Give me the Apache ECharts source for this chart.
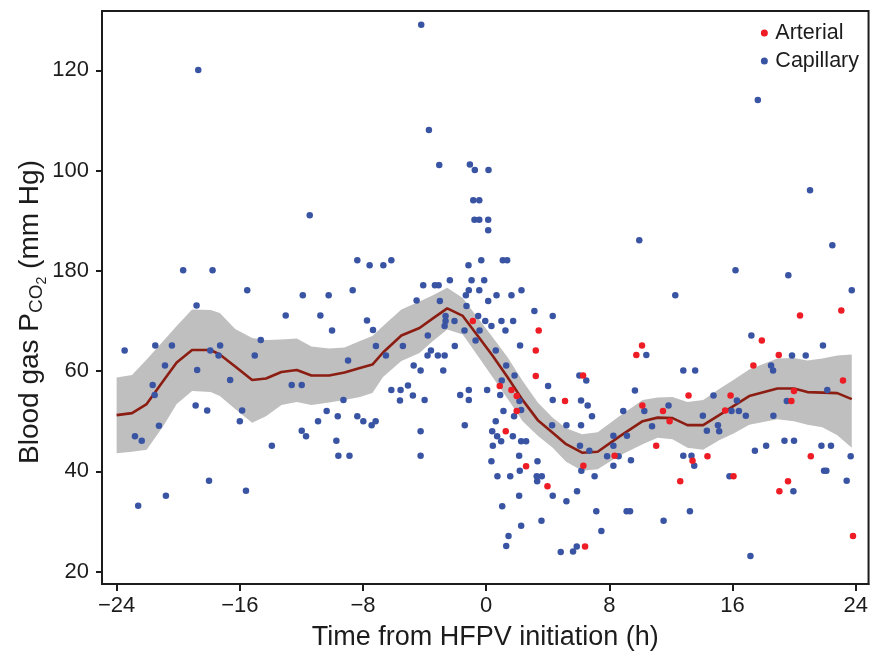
<!DOCTYPE html>
<html><head><meta charset="utf-8">
<script src="https://cdn.jsdelivr.net/npm/echarts@6/dist/echarts.min.js"></script>
<style>html,body{margin:0;padding:0;background:#fff}#c{width:871px;height:656px}</style>
</head><body><div id="c"></div>
<script>
const FONT = '"Liberation Sans", Arial, Helvetica, sans-serif';
const xTicks = [-24, -16, -8, 0, 8, 16, 24];
const xTickLabels = ['\u221224', '\u221216', '\u22128', '0', '8', '16', '24'];
const yTicks = [20, 40, 60, 80, 100, 120];
const yTickLabels = ['20', '40', '60', '180', '100', '120'];
const xTitle = 'Time from HFPV initiation (h)';
const seriesNames = ['Arterial', 'Capillary'];

const capillary = [
[-19.68,80.1],[-17.77,80.1],[-8.37,82.1],[-15.52,76.1],[-11.91,75.1],[-10.23,75.1],[-8.67,76.1],[-18.81,73.1],[-13.02,71.1],[-10.77,71.1],
[-10.01,68.1],[-23.48,64.1],[-21.49,65.1],[-20.41,65.1],[-17.92,64.1],[-17.28,65.1],[-17.38,63.1],[-14.64,66.2],[-15.03,63.1],[-20.86,61.1],
[-18.77,60.2],[-8.97,62.1],[-21.66,57.2],[-21.53,55.2],[-16.63,58.2],[-12.63,57.2],[-11.98,57.2],[-9.27,54.2],[-18.87,53.1],[-18.12,52.1],
[-15.85,52.1],[-16.0,50.0],[-10.36,52.0],[-9.64,51.0],[-8.37,51.0],[-10.92,50.0],[-21.25,49.1],[-22.81,47.0],[-22.37,46.1],[-13.92,45.1],
[-11.98,48.1],[-11.7,47.0],[-9.73,46.1],[-9.6,43.1],[-8.88,43.1],[-22.6,33.1],[-20.8,35.1],[-18.0,38.1],[-15.6,36.1],[-18.7,120.1],[-11.46,91.1],
[-7.57,81.1],[-6.68,81.1],[-6.16,82.1],[-7.74,70.1],[-7.35,68.2],[-7.16,65.0],[-6.51,63.1],[-5.41,65.0],[-4.71,61.1],[-4.52,74.1],
[-6.16,56.2],[-5.56,56.2],[-5.6,54.1],[-5.08,57.1],[-4.76,55.1],[-7.98,50.0],[-7.44,49.2],[-7.18,50.0],
[-4.22,129.1],[-3.72,108.1],[-3.05,101.1],[-1.06,101.2],[-0.74,100.1],[0.15,100.1],[-0.84,94.1],[-0.45,94.1],[-0.76,90.2],[-0.45,90.2],[0.13,90.2],[0.13,88.1],
[-0.32,82.1],[1.08,82.1],[1.36,82.1],[-1.15,81.1],[-4.09,77.1],[-3.33,77.1],[-3.09,77.1],[-2.36,78.1],[-0.95,78.1],[-0.13,78.1],
[-1.13,76.1],[-0.45,76.1],[-1.32,75.1],[0.67,75.1],[1.64,75.1],[2.29,76.1],[-3.01,74.0],[0.13,74.0],[3.13,72.0],[4.32,71.0],
[-1.28,73.0],[-2.64,71.0],[-2.64,70.0],[-2.7,69.0],[-2.06,70.0],[-0.52,71.0],[-0.06,70.0],[0.99,70.0],[1.75,70.0],[0.34,69.0],
[-1.41,68.1],[-0.43,68.1],[1.25,68.1],[-0.69,66.1],[-2.04,65.0],[-3.79,67.1],[-3.59,64.1],[-3.81,63.1],[-3.14,63.1],[-2.7,63.1],
[0.62,64.1],[2.2,65.1],[-4.26,60.1],[-2.79,60.1],[1.3,61.1],[-4.0,54.2],[-1.69,55.2],[-1.13,56.2],[-1.13,54.2],[0.06,56.2],
[0.91,55.2],[1.01,58.1],[1.84,59.1],[2.16,54.0],[2.27,52.2],[1.81,51.0],[1.12,52.0],[0.62,50.0],[-4.26,48.0],[-1.39,49.2],
[0.39,48.0],[0.71,47.0],[0.97,46.0],[0.43,45.1],[1.73,47.0],[2.27,46.0],[2.59,46.0],[-4.26,43.1],[0.34,42.0],[2.14,43.1],
[0.73,39.0],[1.56,39.0],[2.18,40.1],[3.33,42.0],[3.28,39.0],[3.61,39.0],[3.31,38.0],[2.14,35.1],[1.04,33.0],[2.27,29.1],
[3.59,30.1],[1.45,27.1],[1.3,25.1],[4.84,23.9],[4.32,35.1],[5.21,34.0],[4.02,57.0],[4.32,54.2],[4.28,49.2],[5.21,49.2],
[9.94,86.1],[16.19,80.1],[19.62,79.1],[22.48,85.1],[23.74,76.1],[12.28,75.1],[17.22,67.1],[21.87,65.1],[10.4,63.2],[19.86,63.1],
[20.75,63.1],[12.8,60.1],[13.57,60.1],[18.5,61.1],[18.63,60.1],[6.05,59.1],[6.5,58.1],[9.66,56.1],[22.15,56.2],[6.16,54.1],
[6.59,53.1],[6.87,51.0],[14.76,55.1],[16.28,54.1],[11.84,53.1],[8.9,52.0],[10.27,52.0],[15.93,52.0],[16.41,52.0],[16.86,51.1],
[19.52,54.0],[18.65,51.1],[14.07,51.1],[6.16,49.2],[10.77,49.0],[8.26,47.1],[9.14,47.1],[14.33,48.1],[15.05,49.2],[15.13,48.0],
[6.09,45.1],[6.7,44.1],[8.26,45.1],[18.18,45.1],[19.37,46.1],[19.99,46.1],[21.77,45.1],[22.39,45.1],[17.45,44.1],[7.85,43.0],
[8.6,43.0],[9.4,42.2],[12.8,43.1],[13.33,43.1],[13.51,41.1],[23.67,43.0],[8.26,41.1],[6.18,40.1],[7.04,39.0],[15.8,39.0],
[21.94,40.1],[22.09,40.1],[23.41,38.1],[19.95,36.0],[5.9,36.0],[7.15,32.0],[9.12,32.0],[9.34,32.0],[13.23,32.0],[11.52,30.1],
[7.48,28.1],[5.64,24.0],[5.88,25.0],[17.16,23.1],[17.64,114.1],[21.03,96.1]
];

const arterial = [
[-0.87,70.0],[3.41,68.1],[3.22,64.1],[3.22,59.0],[5.12,54.0],[0.88,57.0],[1.64,56.2],[1.98,55.0],[1.98,52.0],[1.27,48.0],
[2.59,41.0],[3.98,37.0],[10.12,65.1],[9.75,63.2],[20.38,71.1],[17.9,66.1],[23.06,72.1],[19.0,63.2],[17.35,61.1],[23.17,58.1],
[6.29,59.1],[13.14,55.1],[15.87,55.1],[10.14,53.1],[11.48,52.0],[11.91,50.0],[15.52,52.1],[19.99,56.0],[19.82,54.0],[8.34,43.1],
[11.04,45.1],[14.37,43.0],[13.4,42.1],[6.31,41.1],[21.08,43.0],[12.6,38.0],[16.06,39.0],[19.04,36.0],[19.6,38.0],[23.82,27.1],[6.42,25.0]
];

const fitX = [-24,-23,-22.05,-21,-20.1,-19.1,-17.9,-17.3,-16.3,-15.2,-14.3,-13.3,-12.3,-11.35,-10.2,-9.2,-8.2,-7.39,-6.7,-5.51,-4.33,-3.46,-2.53,-1.52,-0.54,0.43,1.4,2.37,3.35,4.32,5.19,6.23,7.24,8.64,10.16,11.13,12.1,13.07,14.09,15.13,16.1,17.08,18.91,19.99,20.86,21.83,22.8,23.74];
const fitY = [51.2,51.6,53.4,57.9,61.7,64.2,64.2,63.3,60.9,58.2,58.5,59.8,60.2,59.1,59.1,59.7,60.6,61.3,63.7,67.1,68.6,70.5,72.5,71.0,67.0,63.0,58.7,54.2,50.2,47.7,45.4,43.7,43.9,46.9,50.0,50.7,50.6,49.2,49.2,51.2,53.1,55.0,56.5,56.5,55.8,55.7,55.6,54.4];
const bandUpper = [58.7,59.2,62.3,65.9,69.0,72.3,72.2,71.6,68.4,66.6,66.2,66.3,66.5,64.9,64.5,64.7,66.0,67.0,69.0,72.3,73.9,75.1,76.6,74.6,70.6,66.7,62.7,58.0,53.7,50.7,48.6,47.4,47.8,51.0,54.2,54.7,54.8,53.8,54.2,56.4,58.3,60.3,62.5,62.6,62.1,62.5,63.1,63.3];
const bandLower = [43.6,43.9,44.3,48.9,53.4,56.0,55.8,55.0,52.4,49.7,51.0,53.2,53.8,53.2,53.7,54.2,54.8,55.6,58.8,62.0,63.6,66.0,68.3,67.3,63.0,58.7,54.4,50.0,47.1,44.7,41.9,40.1,40.4,43.1,45.4,46.7,46.4,44.7,44.3,46.2,47.6,49.3,50.4,50.0,49.3,48.8,47.2,44.7];

const INK = '#1c1c1c';
const chart = echarts.init(document.getElementById('c'), null, {renderer: 'canvas'});

const mc = document.createElement('canvas').getContext('2d');
function tw(t, size) { mc.font = size + 'px ' + FONT; return mc.measureText(t).width; }
const yt = [
  {t: 'Blood gas P', s: 28, dy: 0},
  {t: 'CO', s: 19, dy: 7},
  {t: '2', s: 14, dy: 12},
  {t: ' (mm Hg)', s: 28, dy: 0}
];
let total = 0; yt.forEach(p => { p.w = tw(p.t, p.s); total += p.w; });
let cx = -total / 2;
const yTitleChildren = yt.map(p => {
  const el = {type: 'text', x: cx, y: p.dy, style: {text: p.t, font: p.s + 'px ' + FONT, fill: INK, align: 'left', verticalAlign: 'middle'}};
  cx += p.w; return el;
});

const option = {
  animation: false,
  backgroundColor: '#fff',
  grid: {left: 102, right: 1.5, top: 11, bottom: 71, show: true, borderColor: INK, borderWidth: 2, backgroundColor: 'transparent'},
  legend: {
    data: seriesNames, orient: 'vertical', right: 7, top: 17, itemWidth: 12, itemHeight: 7, itemGap: 6,
    icon: 'circle', textStyle: {fontSize: 21.5, lineHeight: 21, color: INK, fontFamily: FONT}
  },
  xAxis: {
    type: 'value', min: -24.95, max: 24.83,
    name: xTitle, nameLocation: 'middle', nameGap: 40,
    nameTextStyle: {fontSize: 27, color: INK, fontFamily: FONT},
    splitLine: {show: false},
    axisLine: {onZero: false, lineStyle: {color: INK, width: 2}},
    axisTick: {customValues: xTicks, length: 7, lineStyle: {color: INK, width: 2}},
    axisLabel: {customValues: xTicks, margin: 11, fontSize: 22, color: INK, fontFamily: FONT,
      formatter: v => xTickLabels[xTicks.indexOf(Math.round(v))]}
  },
  yAxis: {
    type: 'value', min: 17.5, max: 131.85,
    splitLine: {show: false},
    axisLine: {onZero: false, lineStyle: {color: INK, width: 2}},
    axisTick: {customValues: yTicks, length: 6, lineStyle: {color: INK, width: 2}},
    axisLabel: {customValues: yTicks, margin: 13, fontSize: 22, color: INK, fontFamily: FONT,
      formatter: v => yTickLabels[yTicks.indexOf(Math.round(v))]}
  },
  graphic: [{type: 'group', x: 30, y: 312, rotation: Math.PI / 2, children: yTitleChildren}],
  series: [
    {
      type: 'custom', name: 'band', coordinateSystem: 'cartesian2d', silent: true, z: 1,
      data: [[fitX[0], fitY[0]]],
      renderItem: (params, api) => {
        const pts = [];
        for (let i = 0; i < fitX.length; i++) pts.push(api.coord([fitX[i], bandUpper[i]]));
        for (let i = fitX.length - 1; i >= 0; i--) pts.push(api.coord([fitX[i], bandLower[i]]));
        return {type: 'polygon', shape: {points: pts}, style: {fill: '#bfbfbf'}};
      }
    },
    {
      type: 'line', name: 'fit', z: 2, showSymbol: false, silent: true,
      data: fitX.map((x, i) => [x, fitY[i]]),
      lineStyle: {color: '#8c1d12', width: 2.6}
    },
    {type: 'scatter', name: 'Capillary', z: 3, symbolSize: 6.5, data: capillary, itemStyle: {color: '#3a54a4', opacity: 1}},
    {type: 'scatter', name: 'Arterial', z: 4, symbolSize: 6.5, data: arterial, itemStyle: {color: '#ee1c25', opacity: 1}}
  ]
};
chart.setOption(option);
</script>
</body></html>
